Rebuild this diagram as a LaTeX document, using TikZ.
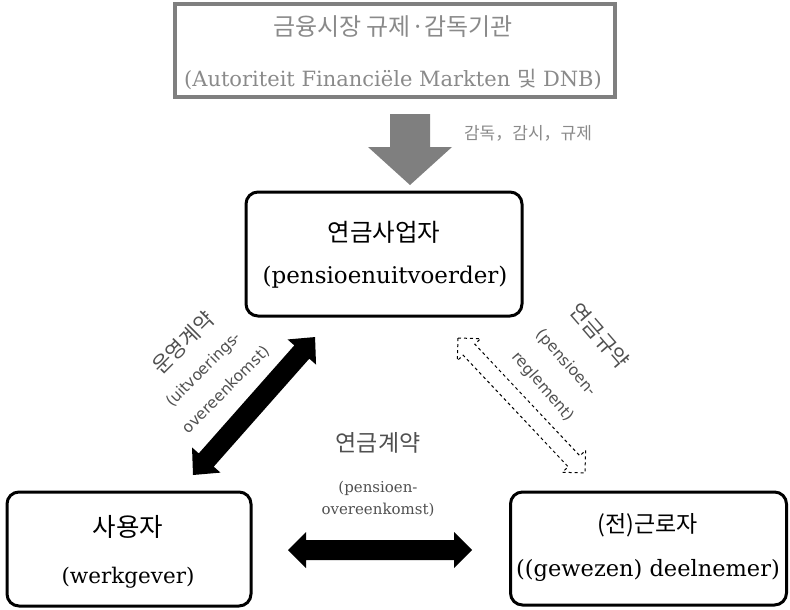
\documentclass[tikz,border=0pt]{standalone}
\usepackage{fontspec}
\setmainfont{DejaVu Serif}
\newfontfamily\kr{Noto Sans CJK KR}
\newfontfamily\lsans{DejaVu Sans}
\newcommand\sz[1]{\fontsize{#1}{#1}\selectfont}
\definecolor{frameg}{HTML}{7F7F7F}
\definecolor{txtg}{HTML}{8A8A8A}
\definecolor{lblg}{HTML}{505050}
\begin{document}
\begin{tikzpicture}[x=1pt,y=-1pt,
  rbox/.style={draw=black, line width=3pt, rounded corners=12pt, inner sep=0pt},
  gbox/.style={draw=frameg, line width=3.5pt, inner sep=0pt},
  t/.style={inner sep=0pt, anchor=center},
  blk/.style={fill=black},
  dsh/.style={draw=black, fill=white, dashed, line width=1pt, line join=miter}]
\useasboundingbox (0,0) rectangle (790,610);

% top regulator box
\node[gbox, minimum width=440pt, minimum height=93pt] (reg) at (395,50.5) {};
\node[t, text=txtg] (regk) at (393,27) {\kr\sz{24pt}금융시장 규제·감독기관};
\node[t, text=txtg] (regl) at (393,79) {\sz{21pt}(Autoriteit Financiële Markten {\kr 및} DNB)};

% gray down arrow
\coordinate (ga) at (410,114);
\coordinate (gb) at (410,185);
\fill[frameg] (390,114) -- (430,114) -- (430,147) -- (452,147) -- (gb) -- (368,147) -- (390,147) -- cycle;
\node[t, text=txtg] (sup) at (528,133) {\kr\sz{17pt}감독，감시，규제};

% pension provider
\node[rbox, minimum width=276pt, minimum height=124pt] (pen) at (384,254) {};
\node[t] (penk) at (384,232) {\kr\sz{24.5pt}연금사업자};
\node[t] (penl) at (385,277) {\sz{23pt}(pensioenuitvoerder)};

% employer
\node[rbox, minimum width=244pt, minimum height=114pt] (emp) at (129,549) {};
\node[t] (empk) at (128,527) {\kr\sz{25.5pt}사용자};
\node[t] (empl) at (128,578) {\sz{21.5pt}(werkgever)};

% (former) employee
\node[rbox, minimum width=276pt, minimum height=113pt] (wrk) at (648.5,548.5) {};
\node[t] (wrkk) at (648,525) {\kr\sz{23pt}(전)근로자};
\node[t] (wrkl) at (648,570) {\sz{22.5pt}((gewezen) deelnemer)};

% horizontal arrow: pension agreement
\coordinate (ha) at (288,550);
\coordinate (hb) at (472,550);
\begin{scope}[shift={(ha)}]
\fill[blk] (0,0) -- (18,-18) -- (18,-10) -- (166,-10) -- (166,-18) -- (184,0) -- (166,18) -- (166,10) -- (18,10) -- (18,18) -- cycle;
\end{scope}
\node[t, text=lblg] (pck) at (378,443) {\kr\sz{23pt}연금계약};
\node[t, text=lblg] (pcl1) at (378,488) {\sz{15pt}(pensioen-};
\node[t, text=lblg] (pcl2) at (378,510) {\sz{15pt}overeenkomst)};

% left diagonal arrow: execution agreement
\coordinate (la) at (193,475);
\coordinate (lb) at (315,337);
\begin{scope}[shift={(la)}, rotate=48.5]
\fill[blk] (0,0) -- (20,-19) -- (20,-10) -- (164.2,-10) -- (164.2,-19) -- (184.2,0) -- (164.2,19) -- (164.2,10) -- (20,10) -- (20,19) -- cycle;
\end{scope}
\node[t, rotate=45, text=lblg] (lk) at (183,343) {\kr\sz{21pt}운영계약};
\node[t, rotate=45, text=lblg] (ll1) at (204,370) {\lsans\sz{15.5pt}(uitvoerings-};
\node[t, rotate=45, text=lblg] (ll2) at (226,390) {\lsans\sz{15.5pt}overeenkomst)};

% right diagonal dashed arrow: pension scheme rules
\coordinate (ra) at (458,338);
\coordinate (rb) at (585,473);
\begin{scope}[shift={(ra)}, rotate=-46.75]
\draw[dsh] (0,0) -- (16,-16) -- (16,-8) -- (169.3,-8) -- (169.3,-16) -- (185.3,0) -- (169.3,16) -- (169.3,8) -- (16,8) -- (16,16) -- cycle;
\end{scope}
\node[t, rotate=-49, text=lblg] (rk) at (600,336) {\kr\sz{21pt}연금규약};
\node[t, rotate=-49, text=lblg] (rl1) at (566,363) {\lsans\sz{15.5pt}(pensioen-};
\node[t, rotate=-49, text=lblg] (rl2) at (543,387) {\lsans\sz{15.5pt}reglement)};
\end{tikzpicture}
\end{document}
